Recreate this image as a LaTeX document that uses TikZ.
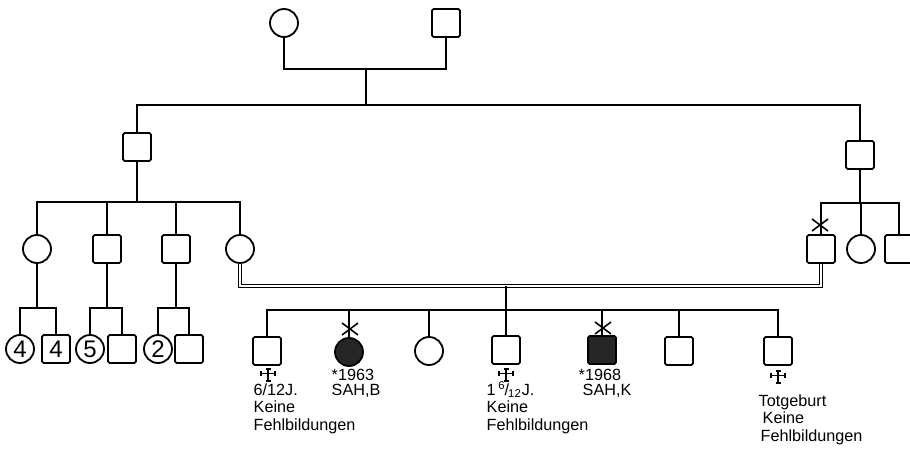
\documentclass[tikz,border=0pt]{standalone}
\usepackage{fontspec}
\setmainfont{Liberation Sans}
\usetikzlibrary{calc}

\tikzset{
    kreuz/.pic={
        \draw[line width=0.8pt] (0,-6) -- (0,6) (-7,-1.5) -- (7,-1.5);
        \draw[line width=0.8pt] (-2.5,-6) -- (2.5,-6) (-2.5,6) -- (2.5,6)
            (-7,-4) -- (-7,1) (7,-4) -- (7,1);
    },
    tod/.pic={
        \draw[line width=0.8pt] (-8,-6) -- (8,6) (-8,6) -- (8,-6);
    }
}

\begin{document}
\begin{tikzpicture}[x=0.5pt,y=-0.5pt,line width=0.7pt,
    male/.style={draw,line width=0.9pt,minimum size=14pt,inner sep=0pt,rounded corners=0.8pt},
    female/.style={draw,circle,line width=0.9pt,minimum size=14pt,inner sep=0pt},
    affected/.style={fill=black!85},
    num/.style={font=\fontsize{12}{12}\selectfont},
    note/.style={font=\fontsize{8.1}{8.75}\selectfont,align=left,inner sep=0pt,anchor=base west},
    notetight/.style={note,font=\fontsize{8.1}{7.5}\selectfont},
    marriage/.style={double,double distance=1pt,line width=0.5pt}]

% Frame
\useasboundingbox (0,0) rectangle (910,449);
\clip (0,0) rectangle (910,449);

% Generation I
\node[female] (g1w) at (284,23) {};
\node[male] (g1m) at (446,23) {};
\coordinate (e1) at (366,69);
\coordinate (s1) at (366,105);
\draw (g1w) |- (e1) -| (g1m);
\draw (e1) -- (s1);

% Generation II
\node[male] (g2a) at (137,147) {};
\node[male] (g2b) at (860,155) {};
\draw (g2a) |- (s1) -| (g2b);

% Generation III, left
\node[female] (c1) at (37,249) {};
\node[male] (c2) at (107,249) {};
\node[male] (c3) at (176,249) {};
\node[female] (c4) at (240,249) {};
\coordinate (s2) at (137,202);
\draw (g2a) -- (s2);
\draw (c1) |- (s2) -| (c4);
\draw (c2) -- (c2 |- s2);
\draw (c3) -- (c3 |- s2);

% Generation III, right
\node[male] (c5) at (821,249) {};
\node[female] (c6) at (861,249) {};
\node[male] (c7) at (899,249) {};
\coordinate (s3) at (860,203);
\draw (g2b) -- (s3);
\draw (c5) |- (s3) -| (c7);
\draw (c6) -- (c6 |- s3);
\pic at (820,225) {tod};

% Consanguineous marriage
\coordinate (e2) at (506,286);
\draw[marriage] (c4) |- (e2) -| (c5);

% Generation IV, left families
\node[female,num] (d1) at (20,349) {4};
\node[male,num] (d2) at (56,349) {4};
\node[female,num] (d3) at (90,349) {5};
\node[male] (d4) at (122,349) {};
\node[female,num] (d5) at (158,349) {2};
\node[male] (d6) at (189,349) {};
\coordinate (s5) at (37,308);
\coordinate (s6) at (107,308);
\coordinate (s7) at (176,308);
\draw (c1) -- (s5);
\draw (c2) -- (s6);
\draw (c3) -- (s7);
\draw (d1) |- (s5) -| (d2);
\draw (d3) |- (s6) -| (d4);
\draw (d5) |- (s7) -| (d6);

% Generation IV, children of the marriage
\node[male] (k1) at (267,351) {};
\node[female,affected] (k2) at (349,352) {};
\node[female] (k3) at (429,351) {};
\node[male] (k4) at (506,350) {};
\node[male,affected] (k5) at (602,350) {};
\node[male] (k6) at (679,351) {};
\node[male] (k7) at (778,351) {};
\coordinate (s4) at (506,310);
\draw (e2) -- (s4);
\draw (k1) |- (s4) -| (k7);
\foreach \k in {k2,k3,k4,k5,k6}
    \draw (\k) -- (\k |- s4);
\pic at (350,329) {tod};
\pic at (603,328) {tod};

% Notes (anchored at the last line)
\pic at (268,375) {kreuz};
\pic at (506,375) {kreuz};
\pic at (778,377) {kreuz};
\node[note] (n1) at (253,430) {6/12J.\\Keine\\Fehlbildungen};
\node[notetight] (n2) at (331,395) {*1963\\SAH,B};
\node[note] (n4) at (486,430) {1\,\textsuperscript{6}\kern-0.5pt/\kern-0.5pt\textsubscript{12}J.\\Keine\\Fehlbildungen};
\node[notetight] (n5) at (578,395) {*1968\\\hspace{2pt}SAH,K};
\node[note] (n7) at (758,441) {Totgeburt\\\hspace{2pt}Keine\\\hspace{1pt}Fehlbildungen};

\end{tikzpicture}
\end{document}
